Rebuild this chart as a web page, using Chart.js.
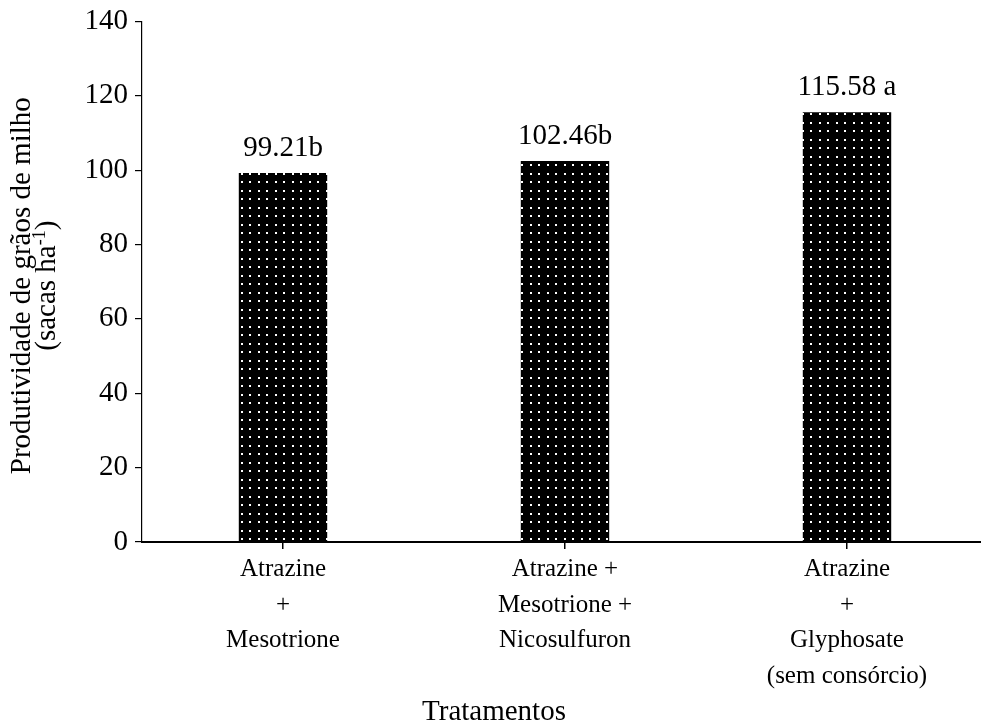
<!DOCTYPE html>
<html>
<head>
<meta charset="utf-8">
<script src="https://cdn.jsdelivr.net/npm/chart.js@4"></script>
<style>
html,body{margin:0;padding:0;background:#fff;overflow:hidden;}
#wrap{width:988px;height:725px;position:relative;}
</style>
</head>
<body>
<div id="wrap"><canvas id="c"></canvas></div>
<script>
const categories = [
  ['Atrazine', '+', 'Mesotrione'],
  ['Atrazine +', 'Mesotrione +', 'Nicosulfuron'],
  ['Atrazine', '+', 'Glyphosate', '(sem consórcio)']
];
const yieldValues = [99.21, 102.46, 115.58];
const valueLabels = ['99.21b', '102.46b', '115.58 a'];
const yTicks = [0, 20, 40, 60, 80, 100, 120, 140];
const yTitleLine1 = 'Produtividade de grãos de milho';
const yTitleLine2 = ['(sacas ha', '-1', ')'];
const xTitle = 'Tratamentos';

const FONT = "'Liberation Serif', 'Times New Roman', serif";

function makePattern() {
  const t = document.createElement('canvas');
  t.width = 17; t.height = 17;
  const g = t.getContext('2d');
  g.fillStyle = '#000';
  g.fillRect(0, 0, 17, 17);
  g.fillStyle = '#fff';
  [[3,3],[11,3],[3,11],[11,11]].forEach(p => g.fillRect(p[0], p[1], 2, 2));
  return document.getElementById('c').getContext('2d').createPattern(t, 'repeat');
}

const valueLabelPlugin = {
  id: 'valueLabels',
  afterDatasetsDraw(chart) {
    const ctx = chart.ctx;
    const meta = chart.getDatasetMeta(0);
    ctx.save();
    ctx.font = '29px ' + FONT;
    ctx.fillStyle = '#000';
    ctx.textAlign = 'center';
    ctx.textBaseline = 'middle';
    meta.data.forEach((bar, i) => {
      ctx.fillText(valueLabels[i], bar.x, bar.y - 25);
    });
    ctx.restore();
  }
};

const yTitlePlugin = {
  id: 'yTitle',
  afterDraw(chart) {
    const ctx = chart.ctx;
    const ca = chart.chartArea;
    const cy = (ca.top + ca.bottom) / 2 + 4;
    ctx.save();
    ctx.fillStyle = '#000';
    ctx.textBaseline = 'middle';
    ctx.translate(0, cy);
    ctx.rotate(-Math.PI / 2);
    ctx.font = '29px ' + FONT;
    ctx.textAlign = 'center';
    ctx.fillText(yTitleLine1, 0, 22);
    const big = '29px ' + FONT, small = '18px ' + FONT;
    ctx.font = big; const w1 = ctx.measureText(yTitleLine2[0]).width;
    ctx.font = small; const w2 = ctx.measureText(yTitleLine2[1]).width;
    ctx.font = big; const w3 = ctx.measureText(yTitleLine2[2]).width;
    let x = -(w1 + w2 + w3) / 2;
    ctx.textAlign = 'left';
    ctx.font = big; ctx.fillText(yTitleLine2[0], x, 47); x += w1;
    ctx.font = small; ctx.fillText(yTitleLine2[1], x, 40); x += w2;
    ctx.font = big; ctx.fillText(yTitleLine2[2], x, 47);
    ctx.restore();
  }
};

new Chart(document.getElementById('c'), {
  type: 'bar',
  data: {
    labels: categories,
    datasets: [{
      data: yieldValues,
      backgroundColor: makePattern(),
      borderWidth: 0,
      barPercentage: 1,
      categoryPercentage: 0.3135
    }]
  },
  options: {
    responsive: true,
    maintainAspectRatio: false,
    animation: false,
    events: [],
    layout: { padding: { top: 0, left: 0, right: 0, bottom: 0 } },
    plugins: {
      legend: { display: false },
      tooltip: { enabled: false },
      title: {
        display: true, position: 'bottom', text: xTitle, color: '#000',
        font: { family: FONT, size: 29, weight: 'normal', lineHeight: 0.9 },
        padding: { top: 2, bottom: 0 }
      }
    },
    scales: {
      x: {
        offset: true,
        grid: { offset: false, drawOnChartArea: false, drawTicks: true, tickLength: 7, color: '#000', lineWidth: 1.5 },
        border: { color: '#000', width: 2 },
        ticks: { color: '#000', font: { family: FONT, size: 25, lineHeight: 1.42 }, maxRotation: 0, autoSkip: false, padding: 3 }
      },
      y: {
        min: 0, max: 140,
        afterBuildTicks(axis) { axis.ticks = yTicks.map(v => ({ value: v })); },
        afterFit(axis) { axis.width = 142; },
        grid: { drawOnChartArea: false, drawTicks: true, tickLength: 7, color: '#000', lineWidth: 1.2 },
        border: { color: '#000', width: 1.2 },
        ticks: { color: '#000', font: { family: FONT, size: 29, lineHeight: 1.0 }, padding: 7 },
        title: { display: false }
      }
    }
  },
  plugins: [valueLabelPlugin, yTitlePlugin]
});
</script>
</body>
</html>
